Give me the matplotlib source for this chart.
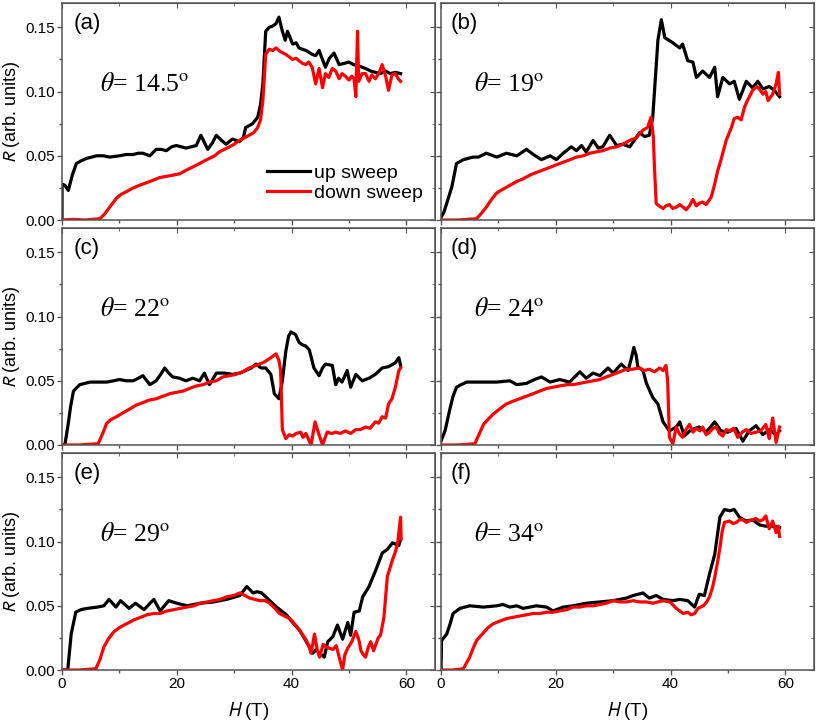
"""
六个角度下上扫/下扫电阻随磁场变化的对比图
"""
import matplotlib

matplotlib.use("Agg")
import matplotlib.pyplot as plt
from matplotlib.ticker import MultipleLocator, FormatStrFormatter

plt.rcParams['font.family'] = ['Liberation Sans', 'DejaVu Sans']

# (a) theta = 14.5
h_a_up = [0, 0.01, 0.5, 1.1, 1.8, 2.5, 3.3, 4.3, 5.2, 6.0, 7.2, 8.3, 10, 11.2, 12.4, 13.3, 14.1, 15.3, 16.4, 17.3,
          18.2, 19.1, 19.9, 20.8, 21.6, 22.5, 23.4, 24.2, 25.4, 26.2, 26.9, 27.8, 28.6, 29.7, 30.9, 31.6, 32.0, 33.2,
          34.1, 34.6, 35.0, 35.5, 36.1, 36.7, 37.3, 37.8, 38.4, 38.9, 39.3, 40.2, 40.8, 41.3, 42.5, 43.6, 44.2, 44.8,
          45.9, 46.6, 47.4, 48.3, 49.2, 50.0, 50.8, 51.7, 52.9, 53.8, 54.6, 55.5, 56.4, 57.2, 58.1, 59.0]
r_a_up = [0, 0.028, 0.027, 0.023, 0.035, 0.044, 0.046, 0.048, 0.049, 0.050, 0.050, 0.049, 0.050, 0.051, 0.051, 0.052,
          0.052, 0.050, 0.055, 0.055, 0.054, 0.057, 0.058, 0.057, 0.056, 0.057, 0.058, 0.066, 0.055, 0.060, 0.066,
          0.062, 0.059, 0.063, 0.061, 0.064, 0.072, 0.075, 0.080, 0.090, 0.106, 0.147, 0.150, 0.151, 0.153, 0.158,
          0.147, 0.140, 0.147, 0.137, 0.138, 0.134, 0.132, 0.129, 0.128, 0.132, 0.119, 0.126, 0.130, 0.121, 0.122,
          0.123, 0.121, 0.120, 0.118, 0.116, 0.115, 0.114, 0.116, 0.114, 0.115, 0.114]
h_a_down = [0, 2, 4, 6.6, 7.5, 8.3, 9.5, 10.3, 11.2, 12.4, 13.5, 14.7, 15.9, 17.0, 18.2, 19.4, 20.5, 21.3, 22.2, 23.1,
            24.0, 24.8, 25.7, 26.6, 27.4, 28.3, 29.2, 30.0, 30.9, 31.8, 32.6, 33.4, 34.1, 34.6, 35.0, 35.5, 36.1,
            36.7, 37.3, 38.1, 39.0, 39.6, 40.2, 40.8, 41.3, 41.9, 42.5, 43.0, 43.6, 44.2, 44.8, 45.4, 45.9, 46.5,
            47.1, 47.7, 48.3, 48.8, 49.4, 50.0, 50.5, 50.9, 51.2, 51.5, 51.7, 52.3, 52.9, 53.5, 54.0, 54.6, 55.2,
            55.8, 56.4, 56.9, 57.5, 58.1, 58.6, 59.0]
r_a_down = [0, 0.0005, 0, 0.001, 0.005, 0.010, 0.017, 0.020, 0.022, 0.025, 0.027, 0.029, 0.031, 0.033, 0.034, 0.035,
            0.036, 0.038, 0.040, 0.042, 0.044, 0.046, 0.048, 0.050, 0.053, 0.055, 0.057, 0.059, 0.062, 0.064, 0.066,
            0.068, 0.072, 0.078, 0.093, 0.129, 0.133, 0.132, 0.134, 0.131, 0.129, 0.127, 0.125, 0.126, 0.124, 0.122,
            0.121, 0.123, 0.119, 0.106, 0.118, 0.103, 0.114, 0.111, 0.118, 0.116, 0.110, 0.114, 0.112, 0.109, 0.112,
            0.110, 0.096, 0.147, 0.108, 0.114, 0.114, 0.108, 0.113, 0.110, 0.114, 0.121, 0.112, 0.101, 0.113, 0.114,
            0.110, 0.108]

# (b) theta = 19
h_b_up = [0, 0.5, 1.0, 1.9, 2.7, 3.9, 5.6, 6.5, 7.9, 9.7, 11.4, 13.2, 14.9, 16.1, 17.5, 19.0, 20.1, 21.3, 22.7, 23.6,
          24.5, 25.3, 26.5, 27.4, 28.2, 29.4, 30.6, 31.7, 32.9, 34.6, 35.5, 36.3, 36.9, 37.8, 38.4, 39.0, 40.4, 41.6,
          42.1, 43.0, 43.9, 44.5, 45.6, 46.8, 47.7, 48.2, 49.1, 50.3, 51.1, 52.0, 53.2, 54.3, 55.2, 56.1, 57.2, 58.1,
          59.0]
r_b_up = [0.002, 0.006, 0.013, 0.026, 0.044, 0.047, 0.049, 0.049, 0.052, 0.049, 0.052, 0.050, 0.055, 0.051, 0.047,
          0.050, 0.047, 0.052, 0.057, 0.054, 0.058, 0.053, 0.062, 0.056, 0.057, 0.066, 0.058, 0.059, 0.057, 0.068,
          0.065, 0.066, 0.080, 0.140, 0.156, 0.142, 0.138, 0.134, 0.137, 0.124, 0.123, 0.111, 0.116, 0.111, 0.119,
          0.096, 0.111, 0.106, 0.108, 0.094, 0.108, 0.103, 0.108, 0.102, 0.104, 0.101, 0.096]
h_b_down = [0, 3, 6.2, 7.0, 7.9, 8.8, 9.7, 10.8, 12.0, 13.2, 14.3, 15.5, 16.6, 17.8, 19.0, 20.1, 21.3, 22.5, 23.6,
            24.8, 25.9, 27.0, 28.2, 29.4, 30.6, 31.7, 32.9, 34.0, 35.2, 36.0, 36.6, 37.0, 37.2, 37.5, 38.0, 38.7,
            39.2, 39.8, 40.4, 41.0, 41.6, 42.2, 42.7, 43.3, 43.9, 44.5, 45.0, 45.6, 46.2, 47.1, 47.7, 48.2, 48.8,
            49.7, 50.6, 51.1, 51.7, 52.3, 52.9, 53.4, 54.3, 55.0, 55.5, 56.1, 56.6, 57.0, 57.8, 58.4, 58.8, 59.0]
r_b_down = [0, 0, 0.001, 0.005, 0.010, 0.016, 0.021, 0.024, 0.027, 0.030, 0.032, 0.035, 0.037, 0.039, 0.041, 0.043,
            0.045, 0.047, 0.049, 0.050, 0.052, 0.053, 0.054, 0.056, 0.057, 0.059, 0.062, 0.064, 0.070, 0.072, 0.080,
            0.065, 0.041, 0.013, 0.011, 0.009, 0.011, 0.012, 0.009, 0.010, 0.012, 0.010, 0.008, 0.011, 0.016, 0.011,
            0.013, 0.014, 0.012, 0.018, 0.028, 0.038, 0.047, 0.062, 0.072, 0.079, 0.080, 0.078, 0.088, 0.093, 0.101,
            0.104, 0.102, 0.098, 0.100, 0.093, 0.098, 0.106, 0.115, 0.098]

# (c) theta = 22
h_c_up = [0, 0.5, 1.1, 1.5, 2.0, 3.1, 4.9, 6.5, 7.8, 9.0, 10.0, 11.2, 12.4, 13.3, 14.1, 15.3, 16.4, 17.2, 17.9, 18.6,
          19.3, 20.5, 21.6, 22.8, 24.0, 24.8, 25.7, 26.9, 28.3, 29.7, 31.0, 32.0, 33.0, 33.8, 34.7, 35.5, 36.4, 37.0,
          37.8, 38.4, 39.0, 39.5, 39.9, 40.7, 41.3, 41.9, 42.5, 43.1, 43.9, 44.8, 45.4, 45.9, 47.1, 47.7, 48.2, 48.8,
          49.7, 50.3, 51.2, 52.3, 53.5, 54.6, 55.8, 56.9, 58.1, 58.7, 59.0]
r_c_up = [0, 0, 0.017, 0.030, 0.042, 0.047, 0.049, 0.049, 0.049, 0.050, 0.051, 0.050, 0.050, 0.052, 0.054, 0.047,
          0.050, 0.055, 0.060, 0.056, 0.053, 0.052, 0.050, 0.052, 0.050, 0.056, 0.047, 0.056, 0.056, 0.055, 0.056,
          0.058, 0.060, 0.063, 0.060, 0.060, 0.055, 0.040, 0.036, 0.050, 0.073, 0.085, 0.088, 0.086, 0.080, 0.078,
          0.077, 0.074, 0.060, 0.054, 0.060, 0.063, 0.062, 0.047, 0.052, 0.049, 0.058, 0.045, 0.055, 0.050, 0.052,
          0.055, 0.060, 0.061, 0.064, 0.068, 0.062]
h_c_down = [0, 3, 6.3, 7.0, 7.8, 8.6, 9.5, 10.6, 11.8, 12.9, 14.1, 15.2, 16.4, 17.6, 18.8, 19.9, 21.1, 22.2, 23.4,
            24.6, 25.7, 26.9, 28.0, 29.2, 30.3, 31.5, 32.6, 33.8, 35.0, 36.1, 37.3, 37.8, 38.1, 38.4, 39.0, 39.6,
            40.2, 40.8, 41.6, 42.0, 42.5, 43.0, 43.4, 44.1, 44.8, 45.4, 46.2, 47.0, 47.7, 48.5, 49.4, 50.3, 51.2,
            52.0, 52.9, 53.7, 54.6, 55.2, 55.8, 56.4, 56.9, 57.5, 58.1, 58.7, 59.0]
r_c_down = [0, 0, 0.001, 0.008, 0.017, 0.020, 0.022, 0.025, 0.028, 0.031, 0.033, 0.035, 0.036, 0.038, 0.040, 0.041,
            0.042, 0.044, 0.046, 0.047, 0.049, 0.050, 0.053, 0.054, 0.055, 0.057, 0.060, 0.062, 0.064, 0.067, 0.071,
            0.066, 0.058, 0.012, 0.005, 0.008, 0.007, 0.009, 0.010, 0.006, 0.009, 0.004, 0.0, 0.018, 0.008, 0.0,
            0.010, 0.009, 0.010, 0.009, 0.011, 0.009, 0.012, 0.012, 0.014, 0.013, 0.018, 0.017, 0.022, 0.021, 0.032,
            0.036, 0.045, 0.058, 0.060]

# (d) theta = 24
h_d_up = [0, 0.7, 1.6, 2.1, 2.7, 3.5, 4.5, 6.0, 7.4, 9.7, 12.0, 13.2, 14.9, 16.3, 17.5, 19.0, 20.7, 22.4, 24.2, 25.3,
          26.5, 27.7, 29.1, 30.0, 31.4, 32.6, 33.2, 33.6, 34.0, 34.3, 35.2, 35.8, 36.9, 37.8, 38.7, 39.8, 41.0, 41.6,
          42.4, 43.6, 45.0, 46.2, 47.7, 48.8, 50.0, 51.4, 52.6, 53.7, 54.9, 56.1, 57.2, 58.4, 59.0]
r_d_up = [0.003, 0.011, 0.029, 0.038, 0.045, 0.047, 0.049, 0.049, 0.049, 0.049, 0.050, 0.047, 0.048, 0.051, 0.053,
          0.049, 0.051, 0.049, 0.057, 0.052, 0.056, 0.054, 0.060, 0.056, 0.063, 0.058, 0.068, 0.076, 0.070, 0.061,
          0.058, 0.048, 0.037, 0.032, 0.018, 0.011, 0.014, 0.018, 0.007, 0.012, 0.014, 0.010, 0.018, 0.011, 0.010,
          0.013, 0.003, 0.011, 0.015, 0.008, 0.012, 0.008, 0.011]
h_d_down = [0, 3, 5.9, 6.6, 7.4, 8.2, 9.1, 10.2, 11.4, 12.5, 13.7, 14.9, 16.1, 17.2, 18.4, 19.5, 20.7, 21.9, 23.0,
            24.2, 25.3, 26.5, 27.7, 28.8, 30.0, 31.2, 32.3, 33.4, 34.6, 35.4, 36.3, 37.2, 38.1, 38.7, 39.2, 39.5,
            39.8, 40.4, 41.0, 41.5, 42.1, 42.7, 43.3, 43.9, 44.5, 45.1, 45.6, 46.2, 46.8, 47.4, 48.0, 48.5, 49.1,
            49.7, 50.3, 51.0, 51.7, 52.5, 53.2, 54.0, 54.9, 55.7, 56.6, 57.2, 57.8, 58.4, 59.0]
r_d_down = [0, 0, 0.001, 0.008, 0.016, 0.020, 0.024, 0.028, 0.032, 0.034, 0.036, 0.038, 0.040, 0.042, 0.044, 0.045,
            0.046, 0.047, 0.047, 0.048, 0.049, 0.050, 0.051, 0.053, 0.055, 0.057, 0.059, 0.059, 0.060, 0.058, 0.059,
            0.057, 0.060, 0.058, 0.062, 0.050, 0.006, 0.001, 0.014, 0.009, 0.006, 0.012, 0.016, 0.010, 0.013, 0.011,
            0.014, 0.008, 0.010, 0.013, 0.014, 0.009, 0.007, 0.012, 0.011, 0.013, 0.006, 0.010, 0.012, 0.009, 0.010,
            0.011, 0.016, 0.005, 0.021, 0.002, 0.014]

# (e) theta = 29
h_e_up = [0, 1.0, 1.6, 2.4, 3.3, 4.4, 6.2, 7.3, 8.2, 9.4, 10.2, 11.7, 12.8, 14.3, 16.0, 17.1, 18.6, 20.0, 21.8, 24.1,
          26.4, 28.7, 31.0, 32.2, 33.3, 34.0, 34.8, 36.2, 37.4, 39.1, 40.2, 41.4, 42.6, 43.7, 44.3, 44.9, 45.7, 46.3,
          47.2, 48.0, 48.9, 49.8, 50.3, 50.9, 51.8, 52.4, 53.5, 54.7, 55.8, 56.7, 57.6, 58.7, 59.0]
r_e_up = [0, 0, 0.028, 0.045, 0.047, 0.048, 0.049, 0.050, 0.055, 0.049, 0.054, 0.048, 0.052, 0.047, 0.055, 0.046,
          0.054, 0.052, 0.050, 0.052, 0.053, 0.055, 0.058, 0.065, 0.060, 0.061, 0.060, 0.054, 0.049, 0.043, 0.037,
          0.031, 0.022, 0.013, 0.016, 0.013, 0.010, 0.022, 0.026, 0.035, 0.024, 0.037, 0.027, 0.045, 0.046, 0.057,
          0.065, 0.078, 0.091, 0.094, 0.099, 0.097, 0.102]
h_e_down = [0, 3, 5.9, 6.6, 7.3, 8.2, 9.1, 10.0, 10.8, 11.7, 12.5, 13.7, 14.8, 16.0, 17.1, 18.3, 19.5, 20.6, 21.8,
            23.0, 24.1, 25.3, 26.4, 27.6, 28.7, 29.9, 31.0, 31.9, 32.7, 33.6, 34.5, 35.4, 36.2, 37.1, 37.9, 38.8,
            39.7, 40.5, 41.4, 42.0, 42.6, 43.0, 43.4, 44.0, 44.5, 44.9, 45.5, 46.0, 46.6, 47.2, 47.8, 48.3, 48.9,
            49.3, 49.8, 50.5, 51.2, 51.7, 52.1, 52.5, 52.9, 53.4, 53.8, 54.3, 54.7, 55.1, 55.5, 56.1, 56.7, 57.2,
            57.6, 58.1, 58.5, 59.0, 59.1]
r_e_down = [0, 0, 0.001, 0.008, 0.018, 0.025, 0.030, 0.033, 0.035, 0.037, 0.039, 0.041, 0.043, 0.044, 0.044, 0.046,
            0.047, 0.048, 0.049, 0.050, 0.052, 0.053, 0.054, 0.055, 0.057, 0.058, 0.060, 0.058, 0.056, 0.055, 0.054,
            0.054, 0.052, 0.048, 0.044, 0.042, 0.040, 0.036, 0.031, 0.027, 0.023, 0.019, 0.013, 0.028, 0.015, 0.010,
            0.020, 0.018, 0.017, 0.016, 0.019, 0.010, 0.0, 0.012, 0.017, 0.022, 0.030, 0.024, 0.015, 0.012, 0.010,
            0.018, 0.022, 0.015, 0.020, 0.025, 0.027, 0.041, 0.073, 0.080, 0.086, 0.092, 0.099, 0.119, 0.102]

# (f) theta = 34
h_f_up = [0, 0.1, 1.0, 1.6, 2.1, 3.3, 5.0, 7.4, 9.7, 10.8, 12.0, 13.2, 14.3, 15.5, 16.6, 18.4, 19.5, 21.3, 23.0, 25.3,
          27.7, 30.0, 32.3, 33.5, 35.2, 36.3, 37.5, 38.7, 40.4, 41.6, 43.0, 44.2, 45.0, 45.9, 46.8, 47.7, 48.6, 49.4,
          50.3, 51.1, 52.0, 53.2, 54.3, 55.5, 56.6, 57.8, 59.0]
r_f_up = [0, 0.023, 0.028, 0.036, 0.044, 0.048, 0.050, 0.049, 0.050, 0.051, 0.049, 0.050, 0.048, 0.049, 0.050, 0.049,
          0.046, 0.049, 0.050, 0.052, 0.053, 0.054, 0.056, 0.058, 0.060, 0.056, 0.058, 0.055, 0.054, 0.055, 0.054,
          0.049, 0.059, 0.058, 0.075, 0.090, 0.119, 0.125, 0.124, 0.125, 0.119, 0.116, 0.117, 0.113, 0.112, 0.112,
          0.111]
h_f_down = [0, 2, 3.9, 5.0, 5.6, 6.2, 6.8, 7.4, 8.2, 9.1, 10.2, 11.4, 12.5, 13.7, 14.9, 16.1, 17.2, 18.4, 19.5, 20.7,
            21.9, 23.0, 24.2, 25.3, 26.5, 27.7, 28.8, 30.0, 31.2, 32.3, 33.5, 34.6, 35.8, 36.9, 37.8, 38.7, 39.9,
            41.0, 42.2, 43.0, 43.6, 44.2, 44.8, 45.7, 46.3, 46.8, 47.3, 47.7, 48.2, 48.6, 49.0, 49.4, 50.3, 50.9,
            51.5, 52.0, 52.6, 53.2, 53.7, 54.3, 54.9, 55.5, 56.1, 56.6, 57.2, 57.8, 58.4, 58.8, 59.0]
r_f_down = [0, 0, 0.001, 0.010, 0.017, 0.023, 0.026, 0.029, 0.033, 0.036, 0.038, 0.040, 0.041, 0.042, 0.043, 0.044,
            0.044, 0.045, 0.045, 0.046, 0.047, 0.049, 0.049, 0.050, 0.050, 0.051, 0.052, 0.054, 0.053, 0.053, 0.054,
            0.053, 0.053, 0.052, 0.053, 0.054, 0.053, 0.048, 0.044, 0.045, 0.043, 0.044, 0.048, 0.050, 0.053, 0.057,
            0.064, 0.072, 0.084, 0.095, 0.108, 0.115, 0.116, 0.114, 0.115, 0.117, 0.117, 0.115, 0.116, 0.117, 0.118,
            0.116, 0.117, 0.120, 0.110, 0.116, 0.107, 0.112, 0.104]

panel_tags = ['(a)', '(b)', '(c)', '(d)', '(e)', '(f)']
angle_text = ['14.5', '19', '22', '24', '29', '34']
up_data = [(h_a_up, r_a_up), (h_b_up, r_b_up), (h_c_up, r_c_up),
           (h_d_up, r_d_up), (h_e_up, r_e_up), (h_f_up, r_f_up)]
down_data = [(h_a_down, r_a_down), (h_b_down, r_b_down), (h_c_down, r_c_down),
             (h_d_down, r_d_down), (h_e_down, r_e_down), (h_f_down, r_f_down)]

spine_color = '#555555'
W, H = 817, 722
col_left = [62, 441]
row_top = [3, 228, 453]
ax_w, ax_h = 373, 217


def set_ticks(ax, show_x, show_y):
    ax.set_xlim(0, 65)
    ax.set_ylim(0, 0.169)
    ax.xaxis.set_major_locator(MultipleLocator(20))
    ax.xaxis.set_minor_locator(MultipleLocator(10))
    ax.yaxis.set_major_locator(MultipleLocator(0.05))
    ax.yaxis.set_minor_locator(MultipleLocator(0.025))
    ax.yaxis.set_major_formatter(FormatStrFormatter('%.2f'))
    ax.tick_params(which='both', direction='out', top=False, right=False, color=spine_color,
                   labelsize=11, pad=1.5, labelbottom=show_x, labelleft=show_y)
    ax.tick_params(which='major', length=3.5, width=1)
    ax.tick_params(which='minor', length=2.2, width=1)
    for s in ax.spines.values():
        s.set_color(spine_color)
        s.set_linewidth(1.1)
    # 上边和右边的刻度朝内
    top = ax.secondary_xaxis('top')
    top.xaxis.set_major_locator(MultipleLocator(20))
    top.xaxis.set_minor_locator(MultipleLocator(10))
    top.tick_params(which='both', direction='in', labeltop=False, color=spine_color)
    top.tick_params(which='major', length=3.5)
    top.tick_params(which='minor', length=2.2)
    top.spines['top'].set_color(spine_color)
    right = ax.secondary_yaxis('right')
    right.yaxis.set_major_locator(MultipleLocator(0.05))
    right.yaxis.set_minor_locator(MultipleLocator(0.025))
    right.tick_params(which='both', direction='in', labelright=False, color=spine_color)
    right.tick_params(which='major', length=3.5)
    right.tick_params(which='minor', length=2.2)
    right.spines['right'].set_color(spine_color)


fig = plt.figure(figsize=(W / 100, H / 100), dpi=100)
axes = []
for i in range(6):
    row, col = i // 2, i % 2
    ax = fig.add_axes([col_left[col] / W, 1 - (row_top[row] + ax_h) / H, ax_w / W, ax_h / H])
    axes.append(ax)
    h_up, r_up = up_data[i]
    h_dn, r_dn = down_data[i]
    ax.plot(h_up, r_up, color='black', lw=2.3, label='up sweep')
    ax.plot(h_dn, r_dn, color='#ff0000', lw=2.3, label='down sweep')
    set_ticks(ax, row == 2, col == 0)

    ax.text(0.03 if col == 0 else 0.025, 0.905, panel_tags[i], transform=ax.transAxes,
            fontsize=16, ha='left', va='center')
    ax.text(0.103 if col == 0 else 0.088, 0.625, r'$\theta$= ' + angle_text[i] + r'$^{\mathrm{o}}$',
            transform=ax.transAxes, fontsize=18.5, ha='left', va='center',
            family='Liberation Serif', math_fontfamily='stix')

    if col == 0:
        ax.set_ylabel(r'$R$ (arb. units)', fontsize=13, math_fontfamily='stixsans')
        ax.yaxis.set_label_coords(-0.106, 0.5)
    if row == 2:
        ax.set_xlabel(r'$H$ (T)', fontsize=13.5, math_fontfamily='stixsans')
        ax.xaxis.set_label_coords(0.5, -0.14)

axes[0].legend(loc='lower right', bbox_to_anchor=(1.0, 0.03), frameon=False, fontsize=14,
               handlelength=2.2, handletextpad=0.25, labelspacing=0.1, borderpad=0.1)

plt.savefig('out.png', dpi=100)
